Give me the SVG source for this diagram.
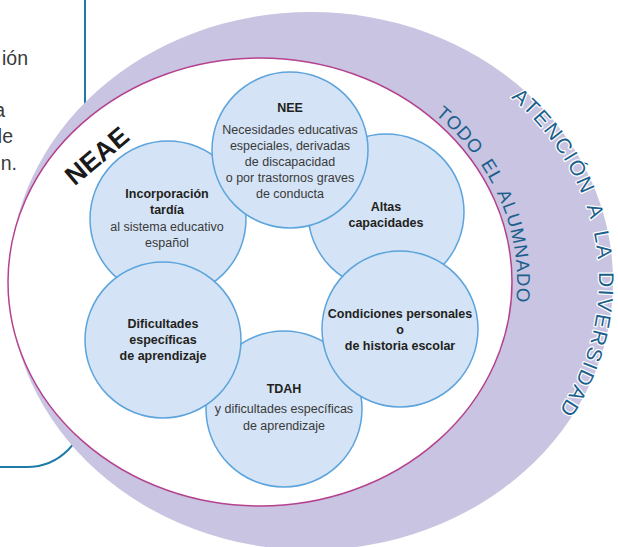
<svg xmlns="http://www.w3.org/2000/svg" width="618" height="547" viewBox="0 0 618 547">
<style>
.box{fill:none;stroke:#1f7ba6;stroke-width:2}
.side{font-family:"Liberation Sans",Arial,sans-serif;font-size:19.5px;fill:#3a3a3a}
.c{fill:#d4e3f5;stroke:#5ca4dc;stroke-width:1.5}
.t{font-family:"Liberation Sans",Arial,sans-serif;font-size:12.5px;fill:#3a3a3a;text-anchor:middle}
.b{font-weight:bold;fill:#231f20}
.arc{font-family:"Liberation Sans",Arial,sans-serif;fill:#1c5f8c}
.halo{stroke:#ffffff;stroke-width:2.5;paint-order:stroke;stroke-linejoin:round}
</style>
<defs>
<path id="pOuter" d="M511.1,97.6 A288,255 0 0 1 514.6,461.3"/>
<path id="pInner" d="M435.3,114.5 A257,229 0 0 1 456.9,429.2"/>
</defs>
<g id="side-box">
<path class="box" d="M85,0 V409 A58,58 0 0 1 27,467 H0"/>
<text class="side" x="28" y="65" text-anchor="end">ión</text>
<text class="side" x="5" y="117" text-anchor="end">a</text>
<text class="side" x="13" y="143" text-anchor="end">le</text>
<text class="side" x="17" y="170" text-anchor="end">n.</text>
</g>
<g id="atencion-diversidad">
<ellipse cx="311" cy="281" rx="302" ry="269" fill="#c8c4e1"/>
</g>
<g id="todo-el-alumnado">
<ellipse cx="260" cy="282" rx="252" ry="224" fill="#ffffff" stroke="#b4428f" stroke-width="1.5"/>
<text class="arc" font-size="18.5" letter-spacing="1" word-spacing="4"><textPath href="#pInner">TODO EL ALUMNADO</textPath></text>
</g>
<g id="atencion-label">
<text class="arc halo" font-size="21" letter-spacing="2" word-spacing="4"><textPath href="#pOuter">ATENCIÓN A LA DIVERSIDAD</textPath></text>
</g>
<g id="neae-label">
<text transform="translate(97,156) rotate(-40)" x="0" y="9" text-anchor="middle" font-family="'Liberation Sans',Arial,sans-serif" font-weight="bold" font-size="26.5" fill="#1a1a1a">NEAE</text>
</g>
<g id="incorporacion">
<circle class="c" cx="168" cy="219" r="78"/>
<text class="t b" x="167" y="198">Incorporación</text>
<text class="t b" x="167" y="214">tardía</text>
<text class="t" x="167" y="231">al sistema educativo</text>
<text class="t" x="167" y="247">español</text>
</g>
<g id="altas">
<circle class="c" cx="386" cy="212" r="78"/>
<text class="t b" x="386" y="211">Altas</text>
<text class="t b" x="386" y="227">capacidades</text>
</g>
<g id="tdah">
<circle class="c" cx="284" cy="409" r="78"/>
<text class="t b" x="284" y="393">TDAH</text>
<text class="t" x="284" y="413">y dificultades específicas</text>
<text class="t" x="284" y="430">de aprendizaje</text>
</g>
<g id="nee">
<circle class="c" cx="290" cy="150" r="78"/>
<text class="t b" x="290" y="112">NEE</text>
<text class="t" x="290" y="134">Necesidades educativas</text>
<text class="t" x="290" y="150">especiales, derivadas</text>
<text class="t" x="290" y="166">de discapacidad</text>
<text class="t" x="290" y="182">o por trastornos graves</text>
<text class="t" x="290" y="198">de conducta</text>
</g>
<g id="condiciones">
<circle class="c" cx="400" cy="329" r="78"/>
<text class="t b" x="400" y="318">Condiciones personales</text>
<text class="t b" x="400" y="334">o</text>
<text class="t b" x="400" y="350">de historia escolar</text>
</g>
<g id="dificultades">
<circle class="c" cx="163" cy="340" r="78"/>
<text class="t b" x="163" y="328">Dificultades</text>
<text class="t b" x="163" y="344">específicas</text>
<text class="t b" x="163" y="360">de aprendizaje</text>
</g>
</svg>
